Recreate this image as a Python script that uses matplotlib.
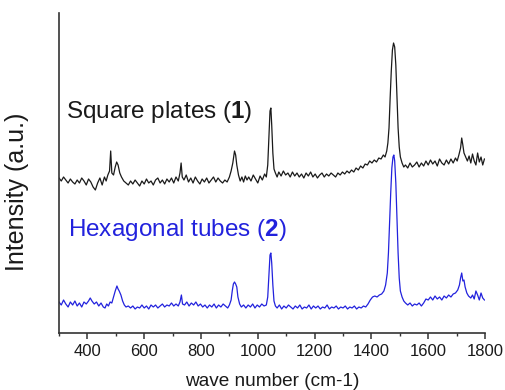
import matplotlib
matplotlib.use("Agg")
import matplotlib.pyplot as plt
from matplotlib.ticker import MultipleLocator

plt.rcParams['font.family'] = ['Liberation Sans', 'DejaVu Sans']
plt.rcParams['mathtext.fontset'] = 'custom'
plt.rcParams['mathtext.rm'] = 'Liberation Sans'
plt.rcParams['mathtext.bf'] = 'Liberation Sans:bold'

# Square plates (1) spectrum: (wavenumber, intensity)
square_x = [300,308,316,324,332,340,348,356,364,372,380,388,396,404,412,420,428,436,444,452,460,466,472,478,482,486,492,498,503,508,514,520,528,536,544,552,560,568,576,584,592,600,608,616,624,632,640,648,656,664,672,680,688,696,704,712,720,726,730,734,740,748,756,764,772,780,788,796,804,812,820,828,836,844,852,860,868,876,884,892,900,906,912,918,922,926,932,938,944,950,956,962,968,976,984,992,1000,1008,1016,1024,1030,1035,1039,1043,1046,1049,1053,1057,1062,1068,1074,1082,1090,1098,1106,1114,1122,1130,1138,1146,1154,1162,1170,1178,1186,1194,1202,1210,1218,1226,1234,1242,1250,1258,1266,1274,1282,1290,1298,1306,1314,1322,1330,1338,1346,1354,1362,1370,1378,1386,1394,1402,1410,1418,1426,1434,1442,1448,1454,1458,1462,1466,1470,1474,1478,1482,1486,1490,1494,1498,1502,1508,1514,1520,1528,1536,1544,1552,1560,1568,1576,1584,1592,1600,1608,1616,1624,1632,1640,1648,1656,1664,1672,1680,1688,1696,1702,1708,1714,1718,1722,1726,1732,1738,1744,1750,1756,1762,1768,1774,1780,1786,1792,1798]
square_y = [155,152,156,153,150,154,151,149,153,150,155,152,148,154,151,146,143,150,155,148,156,152,158,162,182,160,158,166,171,168,160,156,152,150,148,152,149,153,150,147,152,149,154,150,152,148,153,155,150,153,149,154,151,155,150,156,152,160,170,156,153,158,151,155,150,156,152,149,154,151,155,150,153,156,151,155,152,150,153,151,156,162,170,182,178,168,158,152,156,151,157,153,156,152,158,154,150,157,153,159,156,168,195,222,225,208,180,164,160,156,161,157,162,158,160,156,161,157,160,156,159,155,160,157,161,156,159,155,158,160,156,159,157,160,158,156,160,158,161,159,162,160,163,161,165,163,167,165,169,168,172,170,173,171,175,174,178,176,182,190,205,235,262,283,290,286,268,235,205,186,176,170,166,168,165,170,166,168,171,166,170,167,172,168,173,169,172,167,174,170,168,173,169,174,170,175,172,178,185,195,188,180,176,172,177,170,179,172,168,180,171,176,168,174]

# Hexagonal tubes (2) spectrum
hex_x = [300,308,316,324,332,340,348,356,364,372,380,388,396,404,410,416,424,432,440,448,456,462,468,474,480,486,492,498,504,508,512,518,524,530,536,544,552,560,568,576,584,592,600,608,616,624,632,640,648,656,664,672,680,688,696,704,712,720,726,731,735,742,750,758,766,774,782,790,798,806,814,822,830,838,846,854,862,870,878,886,894,900,906,910,914,918,922,926,930,936,942,950,958,966,974,982,990,998,1006,1014,1022,1030,1035,1039,1043,1046,1049,1053,1057,1062,1068,1076,1084,1092,1100,1108,1116,1124,1132,1140,1148,1156,1164,1172,1180,1188,1196,1204,1212,1220,1228,1236,1244,1252,1260,1268,1276,1284,1292,1300,1308,1316,1324,1332,1340,1348,1356,1364,1372,1380,1388,1396,1404,1412,1420,1428,1436,1444,1450,1456,1460,1464,1468,1472,1476,1479,1482,1486,1490,1494,1498,1502,1508,1514,1520,1528,1536,1544,1552,1560,1568,1576,1584,1592,1600,1608,1616,1624,1632,1640,1648,1656,1664,1672,1680,1688,1696,1704,1710,1714,1718,1722,1726,1730,1736,1742,1750,1756,1762,1768,1774,1780,1786,1792,1798]
hex_y = [31,28,33,29,26,31,28,32,27,30,26,31,29,32,35,32,29,31,27,30,26,25,29,27,31,30,36,42,47,44,42,38,32,28,26,27,25,27,24,26,25,28,25,27,24,28,26,28,25,27,29,26,28,27,30,27,29,27,31,38,29,28,31,27,30,28,31,27,29,26,28,25,28,26,29,25,28,26,29,27,25,28,33,42,49,51,49,46,36,29,26,28,25,28,26,29,25,28,26,29,27,28,36,58,78,80,70,48,32,27,25,28,24,27,25,28,26,24,27,25,28,24,26,25,28,24,27,25,27,24,26,25,28,24,26,25,27,24,26,25,27,24,26,25,27,24,26,25,27,26,29,33,36,37,36,38,39,42,48,60,80,110,140,165,176,178,172,150,115,80,55,42,36,32,30,28,30,27,29,28,30,27,30,34,33,36,33,37,34,36,33,37,35,38,36,39,40,43,48,55,60,52,53,46,40,37,35,38,34,42,38,33,40,35,33]

labels = [r"Square plates ($\mathbf{1}$)", r"Hexagonal tubes ($\mathbf{2}$)"]
colors = ['#1a1a1a', '#2222dd']
label_pos = [(325, 221), (332, 103)]

fig = plt.figure(figsize=(5.06, 3.90), dpi=100)
ax = fig.add_axes([59/506, 1-333/390, (485-59)/506, (333-13)/390])

ax.plot(square_x, square_y, color=colors[0], lw=0.9)
ax.plot(hex_x, hex_y, color=colors[1], lw=0.9)

for (tx, ty), lab, c in zip(label_pos, labels, colors):
    ax.text(tx, ty, lab, color=c, fontsize=17.5, va='center', ha='left')

ax.set_xlim(300, 1800)
ax.set_ylim(0, 320)
ax.xaxis.set_major_locator(MultipleLocator(200))
ax.xaxis.set_minor_locator(MultipleLocator(100))
ax.set_yticks([])
for s in ['top', 'right']:
    ax.spines[s].set_visible(False)
for s in ['left', 'bottom']:
    ax.spines[s].set_color('#333333')
    ax.spines[s].set_linewidth(1.2)
ax.tick_params(axis='x', which='major', direction='out', length=4.5, width=1.1,
               color='#333333', labelsize=12, pad=3.5, labelcolor='#1a1a1a')
ax.tick_params(axis='x', which='minor', direction='out', length=2.5, width=1.0,
               color='#333333')

fig.text(272/506, 1-382/390, "wave number (cm-1)", ha='center', va='center',
         fontsize=13.7, color='#1a1a1a')
fig.text(17/506, 1-192/390, "Intensity (a.u.)", ha='center', va='center',
         rotation=90, fontsize=18, color='#1a1a1a')

fig.savefig("out.png", dpi=100)
